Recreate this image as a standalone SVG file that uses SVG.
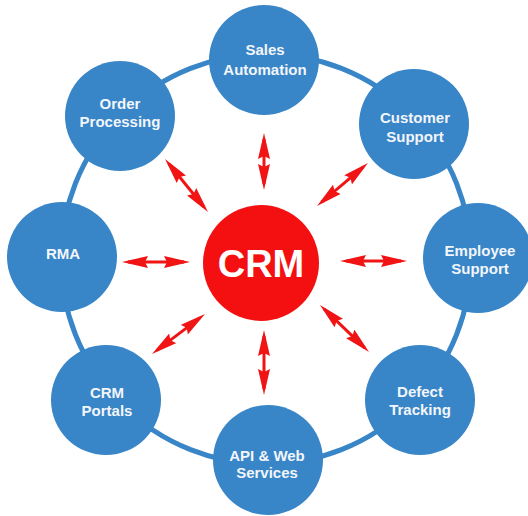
<svg xmlns="http://www.w3.org/2000/svg" width="528" height="516" viewBox="0 0 528 516">
<style>
.node{fill:#3885c7}
.lbl{font-family:"Liberation Sans",Arial,sans-serif;font-weight:bold;font-size:15px;fill:#f2f6fb;text-anchor:middle}
.arr{stroke:#f01414;stroke-width:3;fill:none;marker-start:url(#ah);marker-end:url(#ah)}
</style>
<defs>
<marker id="ah" markerUnits="userSpaceOnUse" markerWidth="26" markerHeight="12" viewBox="0 0 26 12" refX="20" refY="6" orient="auto-start-reverse">
<path d="M0,0 L26,6 L0,12 L3,6 Z" fill="#f01414"/>
</marker>
</defs>
<rect width="528" height="516" fill="#ffffff"/>
<circle id="ring" cx="266" cy="259" r="205" fill="none" stroke="#3885c7" stroke-width="5"/>
<g id="connectors">
<line class="arr" x1="264" y1="139" x2="264" y2="184"/>
<line class="arr" x1="264" y1="336" x2="264" y2="389"/>
<line class="arr" x1="128" y1="262" x2="184" y2="262"/>
<line class="arr" x1="346" y1="261" x2="401" y2="261"/>
<line class="arr" x1="321.6" y1="202.1" x2="363.4" y2="166.9"/>
<line class="arr" x1="324.3" y1="309.2" x2="364.7" y2="347.8"/>
<line class="arr" x1="168.8" y1="163.7" x2="204.2" y2="207.3"/>
<line class="arr" x1="156.8" y1="350.4" x2="200.2" y2="317.6"/>
</g>
<g id="crm">
<circle cx="261" cy="263" r="58" fill="#f41010"/>
<text x="261" y="277" font-family="Liberation Sans,Arial,sans-serif" font-weight="bold" font-size="38" fill="#ffffff" text-anchor="middle">CRM</text>
</g>
<g id="sales">
<circle class="node" cx="264" cy="60" r="55"/>
<text class="lbl" x="265" y="55">Sales</text>
<text class="lbl" x="265" y="75">Automation</text>
</g>
<g id="customer">
<circle class="node" cx="414" cy="124" r="55"/>
<text class="lbl" x="415" y="123">Customer</text>
<text class="lbl" x="415" y="142">Support</text>
</g>
<g id="employee">
<circle class="node" cx="478" cy="258" r="55"/>
<text class="lbl" x="480" y="256">Employee</text>
<text class="lbl" x="480" y="274">Support</text>
</g>
<g id="defect">
<circle class="node" cx="420" cy="400" r="55"/>
<text class="lbl" x="420" y="397">Defect</text>
<text class="lbl" x="420" y="415">Tracking</text>
</g>
<g id="api">
<circle class="node" cx="268" cy="460" r="55"/>
<text class="lbl" x="267" y="461">API &amp; Web</text>
<text class="lbl" x="267" y="478">Services</text>
</g>
<g id="portals">
<circle class="node" cx="106" cy="400" r="55"/>
<text class="lbl" x="107" y="398">CRM</text>
<text class="lbl" x="107" y="416">Portals</text>
</g>
<g id="rma">
<circle class="node" cx="62" cy="257" r="55"/>
<text class="lbl" x="63" y="259">RMA</text>
</g>
<g id="order">
<circle class="node" cx="120" cy="116" r="55"/>
<text class="lbl" x="120" y="109">Order</text>
<text class="lbl" x="120" y="127">Processing</text>
</g>
</svg>
